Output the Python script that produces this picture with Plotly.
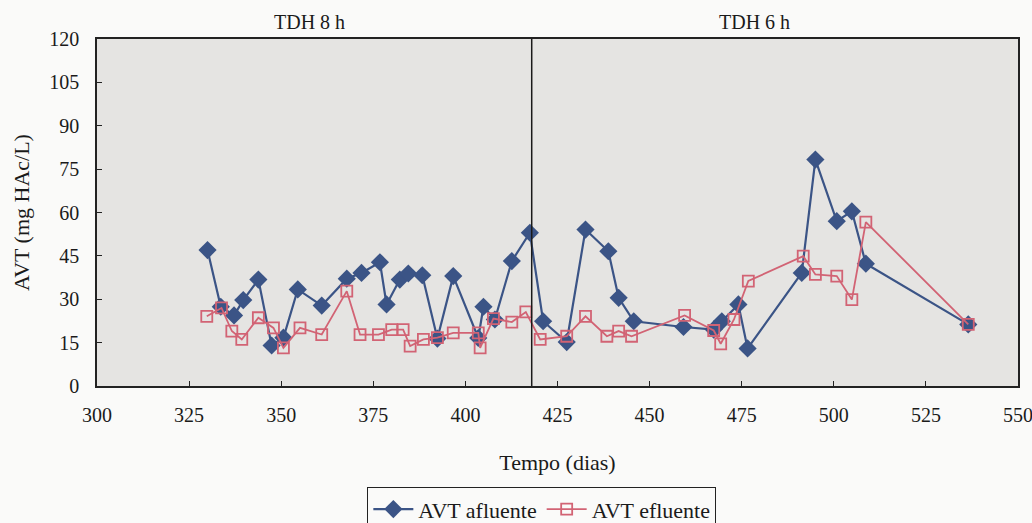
import plotly.graph_objects as go

# Ácidos voláteis totais (AVT) ao longo da operação
dias_afl = [330, 333.6, 337.2, 339.7, 343.8, 347.4, 350.6, 354.5, 361, 367.8,
            371.8, 376.8, 378.6, 382.2, 384.5, 388.3, 392.4, 396.7, 403.5, 404.9,
            408, 412.6, 417.5, 421.1, 427.5, 432.6, 438.8, 441.6, 445.7, 459.2,
            467.4, 469.6, 474.1, 476.6, 491.3, 495, 500.8, 504.9, 508.7, 536.5]
avt_afluente = [47.0, 27.4, 24.4, 29.7, 36.8, 14.0, 16.7, 33.4, 27.8, 37.1,
                39.1, 42.8, 28.2, 36.8, 38.9, 38.3, 16.4, 38.0, 16.6, 27.4,
                23.0, 43.2, 53.0, 22.4, 15.2, 54.1, 46.6, 30.5, 22.4, 20.4,
                19.5, 22.4, 28.2, 13.0, 39.1, 78.3, 57.0, 60.4, 42.3, 21.3]

dias_efl = [329.8, 333.8, 336.6, 339.3, 343.8, 347.9, 350.6, 355.1, 361, 367.8,
            371.4, 376.4, 380, 383.1, 385, 388.6, 392.4, 396.7, 403.5, 404,
            407.6, 412.6, 416.4, 420.3, 427.5, 432.6, 438.4, 441.6, 445.1, 459.5,
            467.4, 469.3, 472.9, 476.8, 491.7, 495, 500.8, 504.9, 508.7, 536.5]
avt_efluente = [24.1, 27.0, 19.0, 16.1, 23.6, 20.1, 13.2, 20.1, 17.8, 32.8,
                17.8, 17.8, 19.5, 19.5, 13.8, 16.1, 16.7, 18.4, 18.4, 13.2,
                23.3, 22.1, 25.6, 16.1, 17.2, 24.1, 17.2, 19.0, 17.2, 24.4,
                19.2, 14.6, 23.0, 36.3, 44.9, 38.6, 38.0, 29.9, 56.7, 21.3]

dia_mudanca_tdh = 418
fases = ["TDH 8 h", "TDH 6 h"]
fases_x = [357.7, 478.6]

x_ticks = [300, 325, 350, 375, 400, 425, 450, 475, 500, 525, 550]
y_ticks = [0, 15, 30, 45, 60, 75, 90, 105, 120]

AZUL = "#3b5486"
VERMELHO = "#d26374"
FONTE = "Liberation Serif, Tinos, Times New Roman, Times, DejaVu Serif, Noto Serif, serif"
TEXTO = "#1a1a1a"

fig = go.Figure()
fig.add_trace(go.Scatter(
    x=dias_afl, y=avt_afluente, name="AVT afluente", mode="lines+markers",
    line=dict(color=AZUL, width=2.2),
    marker=dict(symbol="diamond", size=14, color=AZUL),
))
fig.add_trace(go.Scatter(
    x=dias_efl, y=avt_efluente, name="AVT efluente", mode="lines+markers",
    line=dict(color=VERMELHO, width=1.8),
    marker=dict(symbol="square-open", size=11, color=VERMELHO, line=dict(width=1.8)),
))

# separação entre as duas fases de TDH
fig.add_shape(type="line", x0=dia_mudanca_tdh, x1=dia_mudanca_tdh, y0=0, y1=120,
              xref="x", yref="y", line=dict(color=TEXTO, width=1.5))

for nome, xf in zip(fases, fases_x):
    fig.add_annotation(x=xf, y=1.0, xref="x", yref="paper", yanchor="bottom",
                       yshift=4, text=nome, showarrow=False,
                       font=dict(family=FONTE, size=20, color=TEXTO))

eixo = dict(showgrid=False, zeroline=False, showline=True, linecolor="#222",
            linewidth=1.5, mirror=True, ticks="inside", ticklen=5,
            tickcolor="#222", ticklabeloverflow="allow",
            tickfont=dict(family=FONTE, size=20, color=TEXTO))

fig.update_layout(
    width=1032, height=523,
    margin=dict(l=97, r=14, t=39, b=137, autoexpand=False),
    paper_bgcolor="#fafaf9",
    plot_bgcolor="#e5e4e2",
    font=dict(family=FONTE, color=TEXTO),
    xaxis=dict(range=[300, 550], tickvals=x_ticks, ticklabelstandoff=10,
               title=dict(text="Tempo (dias)", font=dict(family=FONTE, size=22, color=TEXTO),
                          standoff=30),
               **eixo),
    yaxis=dict(range=[0, 120], tickvals=y_ticks, ticklabelstandoff=12,
               title=dict(text="AVT (mg HAc/L)", font=dict(family=FONTE, size=22, color=TEXTO),
                          standoff=14),
               **eixo),
    legend=dict(orientation="h", x=0.483, xanchor="center", y=-0.292, yanchor="top",
                bgcolor="#fafaf9", bordercolor="#222", borderwidth=1,
                font=dict(family=FONTE, size=22, color=TEXTO),
                itemwidth=40, tracegroupgap=0),
    showlegend=True,
)

fig.write_html("out.html")
